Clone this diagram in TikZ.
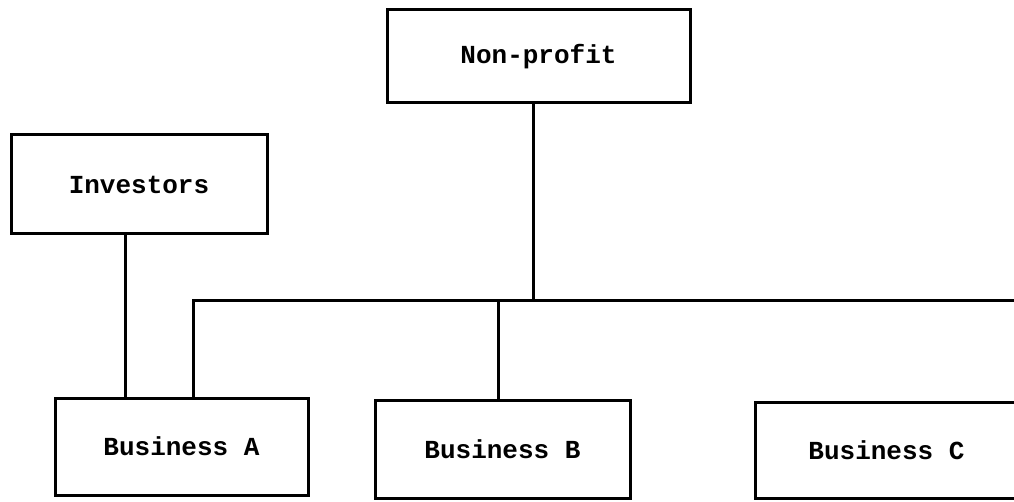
\documentclass[tikz,border=0pt]{standalone}
\usepackage{fontspec}
\setmonofont{Liberation Mono}
\begin{document}
\begin{tikzpicture}[x=1pt,y=1pt,
  unit/.style={draw, line width=3pt, rectangle, inner sep=0pt,
    font=\ttfamily\bfseries\fontsize{26}{30}\selectfont},
  link/.style={line width=3pt}]
\useasboundingbox (0,0) rectangle (1014,-502);
\begin{scope}
\clip (0,0) rectangle (1014,-502);
% organisation boxes
\node[unit, minimum width=303pt, minimum height=93pt] (np)  at (538.5,-56.5) {Non-profit};
\node[unit, minimum width=256pt, minimum height=99pt] (inv) at (139,-184.5) {Investors};
\node[unit, minimum width=253pt, minimum height=97pt] (A)   at (181.5,-446.5) {Business A};
\node[unit, minimum width=255pt, minimum height=98pt] (B)   at (502.5,-449) {Business B};
\node[unit, minimum width=263pt, minimum height=96pt] (C)   at (886.5,-450) {Business C};
% shared bus line under the non-profit
\coordinate (bus)  at (193,-301);
\coordinate (busR) at (1020,-301);
\draw[link] ([xshift=-5pt]np.south) -- ([xshift=-5pt]np.south |- bus);
\draw[link] (busR) -- (bus) -- (bus |- A.north);
\draw[link] ([xshift=-4.5pt]B.north |- bus) -- ([xshift=-4.5pt]B.north);
\draw[link] ([xshift=-14pt]inv.south) -- ([xshift=-14pt]inv.south |- A.north);
\end{scope}
\end{tikzpicture}
\end{document}
